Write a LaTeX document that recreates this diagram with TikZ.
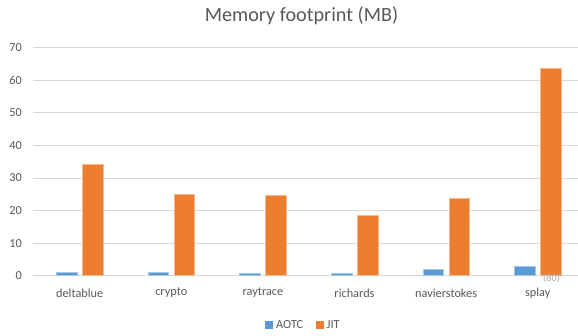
\documentclass[tikz,border=0pt]{standalone}
\usepackage{fontspec}
\setmainfont{Carlito}
\definecolor{aotc}{HTML}{5B9BD5}
\definecolor{jit}{HTML}{ED7D31}
\definecolor{txt}{HTML}{595959}
\definecolor{grid}{HTML}{D9D9D9}
\begin{document}
\begin{tikzpicture}[x=1pt,y=1pt,
  gridline/.style={draw=grid,line width=0.9pt},
  ylab/.style={anchor=east,text=txt,font=\fontsize{12.3}{14}\selectfont,inner sep=0pt},
  catlab/.style={text=txt,font=\fontsize{12.3}{14}\selectfont,inner sep=0pt},
  legtext/.style={anchor=west,text=txt,font=\fontsize{12.3}{14}\selectfont,inner sep=0pt},
  barA/.style={fill=aotc,draw=aotc!55!white,line width=0.4pt},
  barJ/.style={fill=jit,draw=jit!55!white,line width=0.4pt}]
\useasboundingbox (0,0) rectangle (578,336);
\fill[white] (0,0) rectangle (578,336);
\def\base{60.3}
\def\sc{3.257}
% gridlines and y labels
\foreach \k in {0,...,7}{
  \draw[gridline] (33,{\base+\k*10*\sc}) -- (578,{\base+\k*10*\sc});
  \node[ylab] (y\k) at (22,{\base+\k*10*\sc}) {\the\numexpr\k*10\relax};
}
% bars
\foreach \i/\name/\a/\j in {0/deltablue/1.2/34.3, 1/crypto/1.2/25.1, 2/raytrace/0.75/24.6, 3/richards/0.9/18.5, 4/navierstokes/2.0/23.7, 5/splay/3.0/63.7}{
  \pgfmathsetmacro{\c}{79.7+91.6*\i}
  \filldraw[barA] ({\c-23.3},\base) rectangle ({\c-2.75},{\base+\a*\sc});
  \filldraw[barJ] ({\c+2.75},\base) rectangle ({\c+23.3},{\base+\j*\sc});
  \node[catlab] (cat\i) at (\c,43) {\name};
}
\node[text=black!32,font=\fontsize{10.5}{12}\selectfont,inner sep=0pt] (note) at (551.5,58) {(80)};
% title
\node[text=txt,font=\fontsize{20.2}{24}\selectfont,inner sep=0pt] (title) at (301.5,320) {Memory footprint (MB)};
% legend
\fill[aotc] (265,7) rectangle (273.3,15.3);
\node[legtext] (lA) at (276,11) {AOTC};
\fill[jit] (316,7) rectangle (324.3,15.3);
\node[legtext] (lJ) at (326.5,11) {JIT};
\end{tikzpicture}
\end{document}
